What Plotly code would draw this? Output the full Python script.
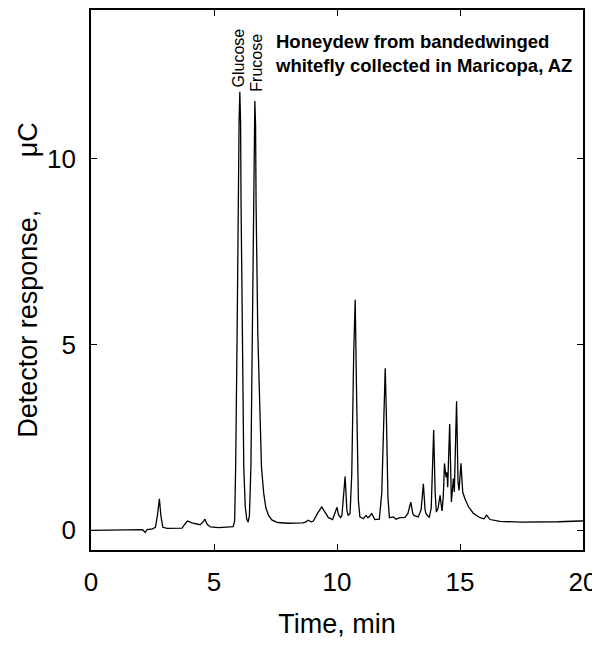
import plotly.graph_objects as go

# chromatogram trace (time in min, response in uC)
time_min = [
    0.00, 1.00, 2.10, 2.20, 2.28, 2.50, 2.62, 2.70, 2.78, 2.84, 2.92, 3.10,
    3.70, 3.80, 3.92, 4.10, 4.43, 4.55, 4.63, 4.72, 4.85, 5.20, 5.78,
    5.84, 5.88, 5.94, 5.98, 6.02, 6.05, 6.08, 6.10, 6.14, 6.21, 6.27, 6.33,
    6.39, 6.44, 6.50, 6.56, 6.60, 6.63, 6.66, 6.69, 6.71, 6.78, 6.93, 7.02,
    7.11, 7.22, 7.35, 7.58, 8.00, 8.60, 8.72, 8.83, 8.95, 9.04, 9.20, 9.38,
    9.52, 9.65, 9.82, 9.92, 10.00, 10.06, 10.14, 10.20, 10.33, 10.40, 10.45,
    10.53, 10.60, 10.68, 10.74, 10.80, 10.87, 10.93, 11.07, 11.18, 11.25,
    11.30, 11.41, 11.54, 11.72, 11.82, 11.90, 11.96, 12.01, 12.07, 12.13,
    12.29, 12.40, 12.56, 12.76, 12.88, 13.00, 13.08, 13.13, 13.30, 13.42,
    13.51, 13.58, 13.62, 13.75, 13.83, 13.93, 13.99, 14.04, 14.11, 14.19,
    14.27, 14.32, 14.37, 14.43, 14.47, 14.50, 14.58, 14.65, 14.73, 14.77,
    14.86, 14.92, 14.96, 15.04, 15.11, 15.20, 15.34, 15.54, 15.68, 15.81,
    15.98, 16.08, 16.22, 16.63, 17.50, 18.12, 19.00, 19.88, 20.00,
]
response_uC = [
    0.00, 0.01, 0.02, -0.06, 0.02, 0.04, 0.08, 0.40, 0.85, 0.40, 0.08, 0.05,
    0.06, 0.15, 0.25, 0.20, 0.15, 0.22, 0.30, 0.16, 0.09, 0.07, 0.10,
    0.25, 1.70, 5.30, 8.80, 11.00, 11.80, 11.00, 8.80, 5.30, 1.70, 0.64, 0.30,
    0.22, 0.40, 1.70, 5.30, 8.80, 10.90, 11.55, 10.90, 8.80, 5.30, 1.70, 1.00,
    0.60, 0.40, 0.28, 0.21, 0.19, 0.20, 0.22, 0.27, 0.23, 0.25, 0.45, 0.63,
    0.48, 0.34, 0.29, 0.45, 0.62, 0.42, 0.34, 0.40, 1.45, 0.55, 0.40,
    0.45, 1.50, 4.80, 6.20, 3.50, 0.80, 0.36, 0.31, 0.40, 0.34,
    0.36, 0.45, 0.29, 0.30, 1.00, 3.40, 4.36, 3.00, 0.90, 0.34,
    0.36, 0.30, 0.34, 0.35, 0.45, 0.76, 0.45, 0.40, 0.36, 0.55,
    1.25, 0.55, 0.45, 0.34, 0.60, 2.70, 1.00, 0.49, 0.60, 0.94,
    0.52, 0.90, 1.80, 1.43, 1.56, 1.16, 2.86, 0.76, 1.39, 1.03,
    3.47, 1.30, 1.07, 1.80, 1.03, 0.85, 0.64, 0.46, 0.40, 0.34,
    0.31, 0.41, 0.29, 0.24, 0.22, 0.22, 0.23, 0.25, 0.25,
]

x_ticks = [0, 5, 10, 15, 20]
y_ticks = [0, 5, 10]

peak_names = ["Glucose", "Frucose"]
peak_label_x = [5.98, 6.75]
peak_label_y = [11.85, 11.75]

font_family = "Liberation Sans, Arial, sans-serif"
gap = "\u00a0" * 7

fig = go.Figure()
fig.add_trace(go.Scatter(x=time_min, y=response_uC, mode="lines",
                         line=dict(color="black", width=1.3),
                         showlegend=False))

for name, px_, py_ in zip(peak_names, peak_label_x, peak_label_y):
    fig.add_annotation(x=px_, y=py_, xref="x", yref="y", text=name,
                       textangle=-90, showarrow=False,
                       xanchor="center", yanchor="bottom",
                       font=dict(size=16, color="black", family=font_family))

fig.add_annotation(x=0.37, y=0.965, xref="paper", yref="paper",
                   text="<b>Honeydew from bandedwinged<br>whitefly collected in Maricopa, AZ</b>",
                   showarrow=False, xanchor="left", yanchor="top", align="left",
                   font=dict(size=18.5, color="black", family=font_family))

# the page body adds an 8px margin, so the figure is sized to fit the window
fig.update_layout(
    width=592, height=637,
    margin=dict(l=83, r=17, t=0, b=95),
    paper_bgcolor="white", plot_bgcolor="white",
    font=dict(family=font_family, color="black"),
)
fig.update_xaxes(range=[0, 20], tickvals=x_ticks, ticks="inside", ticklen=6,
                 tickwidth=1.2, tickcolor="black", showline=True, linewidth=1.6,
                 linecolor="black", mirror="ticks", showgrid=False, zeroline=False,
                 tickfont=dict(size=26), ticklabelstandoff=8,
                 title=dict(text="Time, min", font=dict(size=27), standoff=18))
fig.update_yaxes(range=[-0.53, 14.0], tickvals=y_ticks, ticks="inside", ticklen=6,
                 tickwidth=1.2, tickcolor="black", showline=True, linewidth=1.6,
                 linecolor="black", mirror="ticks", showgrid=False, zeroline=False,
                 tickfont=dict(size=26), ticklabelstandoff=8,
                 title=dict(text="Detector response," + gap + "μC",
                            font=dict(size=27), standoff=2))

fig.write_html("out.html")
